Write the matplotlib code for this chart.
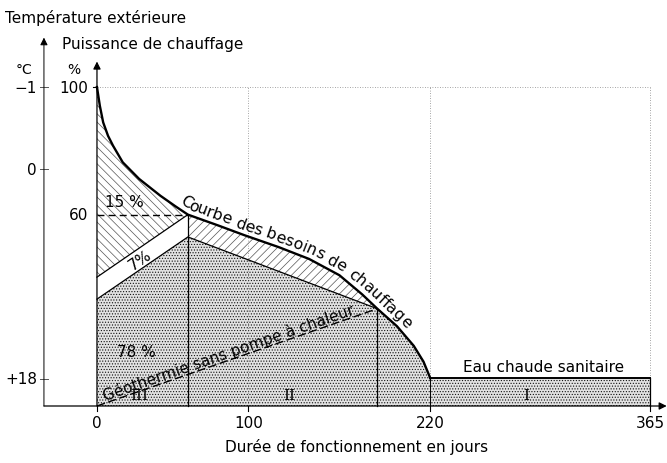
import numpy as np
import matplotlib
matplotlib.use("Agg")
import matplotlib.pyplot as plt
from matplotlib.textpath import TextToPath
from matplotlib.font_manager import FontProperties

# heating demand duration curve (days, % of heating power)
curve_days = [0, 1.9, 4.1, 7.3, 10.6, 17, 27.8, 41.9, 51.8, 60, 80, 97, 120, 140, 160, 175, 185, 198, 209, 215.5, 220]
curve_pct = [100, 94.1, 88.9, 84.7, 81.6, 76.4, 71.2, 65.9, 62.6, 60, 56.6, 53.6, 49.8, 46.1, 41.0, 35.0, 30.5, 25.0, 18.9, 13.9, 8.7]

# domestic hot water plateau
dhw_days = [220, 365]
dhw_pct = [8.7, 8.7]

# split lines between the shares
upper_days = [0, 60]
upper_pct = [40.4, 60]
lower_days = [0, 60, 185]
lower_pct = [33.5, 53, 30.5]
geo_days = [0, 185]
geo_pct = [0, 30.5]

day_ticks = [0, 100, 220, 365]
pct_ticks = [100, 60]
temp_labels = ["\u22121", "0", "+18"]
temp_pos = [100, 74.3, 8.5]
zones = ["III", "II", "I"]
zone_days = [28, 127, 283]

plt.rcParams['font.family'] = ['DejaVu Sans']
plt.rcParams['hatch.linewidth'] = 0.5
FS = 11

fig = plt.figure(figsize=(6.67, 4.64), dpi=100)
ax = fig.add_axes([0, 0, 1, 1])
ax.set_xlim(-64.0, 376.2)
ax.set_ylim(-17.87, 127.6)
ax.axis('off')

cd = np.array(curve_days)
cp = np.array(curve_pct)

# stippled base load area
i185 = curve_days.index(185)
sx = [0, 0] + lower_days[1:] + curve_days[i185 + 1:] + [365, 365]
sy = [0, lower_pct[0]] + lower_pct[1:] + curve_pct[i185 + 1:] + [dhw_pct[1], 0]
ax.fill(sx, sy, facecolor='#e2e2e2', edgecolor='#111', lw=0, hatch='......', zorder=1)

# 15 % peak share
i60 = curve_days.index(60)
hx = curve_days[:i60 + 1] + [upper_days[0]]
hy = curve_pct[:i60 + 1] + [upper_pct[0]]
ax.fill(hx, hy, facecolor='white', edgecolor='#555', lw=0, hatch='\\\\\\\\', zorder=1)

# 7 % share (right part)
rx = curve_days[i60:i185 + 1] + lower_days[::-1][:2]
ry = curve_pct[i60:i185 + 1] + lower_pct[::-1][:2]
ax.fill(rx, ry, facecolor='white', edgecolor='#555', lw=0, hatch='////', zorder=1)

# grid (dotted)
grid = dict(color='#888', lw=0.6, ls=(0, (1, 2)), zorder=2)
ax.plot([0, 365], [100, 100], **grid)
ax.plot([100, 100], [0, 100], **grid)
ax.plot([220, 220], [0, 100], **grid)
ax.plot([365, 365], [dhw_pct[1], 100], **grid)

# curve and lines
ax.plot(cd, cp, color='k', lw=1.7, zorder=4)
ax.plot(dhw_days, dhw_pct, color='k', lw=1.4, zorder=4)
ax.plot(upper_days, upper_pct, color='k', lw=0.9, zorder=3)
ax.plot(lower_days, lower_pct, color='k', lw=0.9, zorder=3)
ax.plot([60, 60], [0, 60], color='k', lw=0.9, zorder=3)
ax.plot([185, 185], [0, 30.5], color='k', lw=0.9, zorder=3)
ax.plot([220, 220], [0, dhw_pct[0]], color='k', lw=0.7, zorder=3)
ax.plot([365, 365], [0, dhw_pct[1]], color='k', lw=0.9, zorder=3)
ax.plot([0, 60], [60, 60], color='k', lw=1.0, ls=(0, (5, 3)), zorder=3)
ax.plot(geo_days, geo_pct, color='k', lw=1.0, ls=(0, (6, 2.5)), zorder=3)

# axes with arrows
arr = dict(arrowstyle='-|>', lw=0.9, color='k', mutation_scale=11, shrinkA=0, shrinkB=0)
ax.annotate('', xy=(376, 0), xytext=(-35, 0), arrowprops=arr)
ax.annotate('', xy=(-35, 115.5), xytext=(-35, 0), arrowprops=dict(arr, lw=0.7))
ax.annotate('', xy=(0, 108), xytext=(0, 0), arrowprops=arr)

for p in temp_pos:
    ax.plot([-37.5, -32.5], [p, p], color='#555', lw=0.7)
ax.plot([-2.5, 0], [100, 100], color='k', lw=0.8)
for d in day_ticks:
    ax.plot([d, d], [-1.5, 0], color='k', lw=0.8)

# labels
for lab, p in zip(temp_labels, temp_pos):
    ax.text(-39.5, p, lab, ha='right', va='center', fontsize=FS)
for p in pct_ticks:
    ax.text(-5.5, p, str(p), ha='right', va='center', fontsize=FS)
for d in day_ticks:
    ax.text(d, -5.2, str(d), ha='center', va='center', fontsize=FS)
ax.text(171, -12.6, "Durée de fonctionnement en jours", ha='center', va='center', fontsize=FS)
ax.text(-60.5, 121.9, "Température extérieure", ha='left', va='center', fontsize=FS)
ax.text(-23, 113.6, "Puissance de chauffage", ha='left', va='center', fontsize=FS)
ax.text(-48, 105.6, "°C", ha='center', va='center', fontsize=FS - 1)
ax.text(-15, 105.6, "%", ha='center', va='center', fontsize=FS - 1)

ax.text(18.4, 64, "15 %", ha='center', va='center', fontsize=FS, zorder=5)
ax.text(26.3, 17.2, "78 %", ha='center', va='center', fontsize=FS, zorder=5)
ax.text(294.5, 12.3, "Eau chaude sanitaire", ha='center', va='center', fontsize=FS, zorder=5)
for z, d in zip(zones, zone_days):
    ax.text(d, 3.4, z, ha='center', va='center', fontsize=FS, family='DejaVu Serif', zorder=5)

# 7 % rotated along the band
p0, p1 = ax.transData.transform([(upper_days[0], upper_pct[0]), (upper_days[1], upper_pct[1])])
ang_band = np.degrees(np.arctan2(p1[1] - p0[1], p1[0] - p0[0]))
ax.text(28.5, 46, "7%", ha='center', va='center', rotation=ang_band, fontsize=FS, zorder=5)

# Géothermie text on the dashed line
g0, g1 = ax.transData.transform([(geo_days[0], geo_pct[0]), (geo_days[1], geo_pct[1])])
ang_geo = np.degrees(np.arctan2(g1[1] - g0[1], g1[0] - g0[0]))
ax.text(5, 1.8, "Géothermie sans pompe à chaleur", ha='left', va='baseline',
        rotation=ang_geo, rotation_mode='anchor', fontsize=FS, zorder=5)

# text following the demand curve
def text_on_curve(xs, ys, s, start_x, offset_px, fs):
    pts = ax.transData.transform(np.column_stack([xs, ys]))
    t = np.linspace(0, len(pts) - 1, 3000)
    px = np.interp(t, np.arange(len(pts)), pts[:, 0])
    py = np.interp(t, np.arange(len(pts)), pts[:, 1])
    seg = np.hypot(np.diff(px), np.diff(py))
    arc = np.concatenate([[0], np.cumsum(seg)])
    x0 = ax.transData.transform((start_x, 0))[0]
    a0 = arc[np.searchsorted(px, x0)]
    prop = FontProperties(family='DejaVu Sans', size=fs)
    ttp = TextToPath()
    k = fig.dpi / 72.0

    def width(txt):
        if not txt:
            return 0.0
        return ttp.get_text_width_height_descent(txt, prop, ismath=False)[0] * k

    inv = ax.transData.inverted()
    for i, ch in enumerate(s):
        w0 = width(s[:i])
        wc = width(s[:i + 1]) - w0
        a = a0 + w0 + wc / 2
        xa = np.interp(a - 8, arc, px), np.interp(a - 8, arc, py)
        xb = np.interp(a + 8, arc, px), np.interp(a + 8, arc, py)
        ang = np.arctan2(xb[1] - xa[1], xb[0] - xa[0])
        cx = np.interp(a, arc, px) - np.sin(ang) * offset_px
        cy = np.interp(a, arc, py) + np.cos(ang) * offset_px
        dx, dy = inv.transform((cx, cy))
        ax.text(dx, dy, ch, ha='center', va='baseline', rotation=np.degrees(ang),
                rotation_mode='anchor', fontsize=fs, zorder=5)

text_on_curve(curve_days, curve_pct, "Courbe des besoins de chauffage", 52, 5.5, FS + 0.3)

fig.savefig("out.png", dpi=100)
